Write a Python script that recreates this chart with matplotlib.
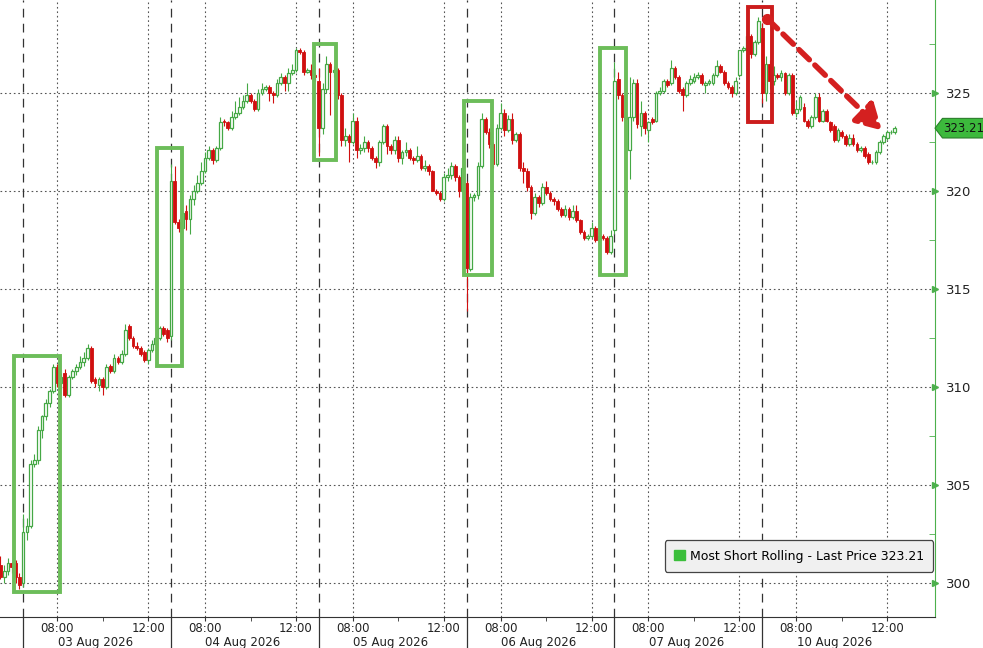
import numpy as np
import matplotlib.pyplot as plt
from matplotlib.patches import Rectangle, Polygon, Patch

# ---------------- data: 10-minute bars (open, high, low, close) ----------------
BARS_PER_DAY = 39          # 06:30 - 13:00
day_labels = ["03 Aug 2026", "04 Aug 2026", "05 Aug 2026",
              "06 Aug 2026", "07 Aug 2026", "10 Aug 2026"]
time_ticks = [9, 33]       # 08:00, 12:00 (bar index inside a day)
time_labels = ["08:00", "12:00"]
minor_tick = 21            # 10:00
last_price = 323.21

# last bars of 31 Jul
bars_jul31 = [
    (300.9, 301.4, 300.2, 300.3), (300.3, 300.9, 300.0, 300.6), (300.6, 301.3, 300.4, 301.0),
    (301.0, 301.1, 300.5, 300.8), (301.0, 301.2, 300.0, 300.3), (300.3, 300.5, 299.7, 299.9),
]

bars_aug03 = [
    (300.0, 303.5, 299.8, 302.6), (302.6, 303.3, 302.2, 302.9), (302.9, 306.3, 302.8, 306.1),
    (306.1, 306.6, 305.9, 306.3), (306.3, 308.0, 306.1, 307.8), (307.8, 308.6, 307.4, 308.5),
    (308.5, 309.4, 308.3, 309.2), (309.2, 309.9, 309.0, 309.8), (309.8, 311.2, 309.7, 311.0),
    (311.0, 311.2, 310.0, 310.2), (310.2, 310.7, 309.9, 310.5), (310.7, 310.9, 309.5, 309.6),
    (309.6, 310.6, 309.5, 310.5), (310.5, 310.9, 310.4, 310.8), (310.8, 311.2, 310.6, 311.0),
    (311.0, 311.6, 310.9, 311.3), (311.3, 311.8, 311.1, 311.5), (311.5, 312.2, 311.4, 312.0),
    (312.0, 312.1, 310.2, 310.3), (310.4, 310.5, 310.0, 310.2), (310.1, 310.5, 309.8, 310.4),
    (310.4, 310.5, 309.6, 310.0), (310.0, 311.2, 309.9, 311.0), (311.1, 311.2, 310.7, 310.8),
    (310.8, 311.7, 310.7, 311.5), (311.5, 311.6, 311.2, 311.3), (311.3, 311.9, 311.2, 311.7),
    (311.7, 313.2, 311.6, 312.9), (313.1, 313.2, 312.4, 312.5), (312.5, 312.6, 312.0, 312.1),
    (312.1, 312.3, 311.9, 312.0), (312.0, 312.1, 311.6, 311.7), (311.8, 311.9, 311.3, 311.4),
    (311.4, 312.0, 311.2, 311.9), (311.9, 312.4, 311.8, 312.2), (312.2, 312.7, 312.1, 312.5),
    (312.5, 313.1, 312.4, 313.0), (313.0, 313.1, 312.6, 312.7), (312.9, 313.0, 312.3, 312.5),
]

bars_aug04 = [
    (312.6, 321.4, 312.4, 320.5), (320.5, 321.3, 318.3, 318.4), (318.4, 318.6, 317.9, 318.1),
    (318.1, 319.2, 317.9, 318.9), (319.0, 319.3, 318.0, 318.6), (318.6, 319.8, 317.8, 319.6),
    (319.6, 320.3, 319.3, 320.0), (320.0, 320.8, 319.9, 320.4), (320.4, 321.5, 320.3, 321.0),
    (321.0, 322.0, 320.9, 321.7), (321.7, 322.3, 321.6, 322.1), (322.1, 322.2, 321.4, 321.6),
    (321.6, 322.3, 321.5, 322.2), (322.2, 323.8, 322.1, 323.5), (323.6, 323.7, 323.3, 323.5),
    (323.5, 323.6, 323.1, 323.2), (323.2, 324.1, 323.1, 323.8), (323.8, 324.6, 323.7, 324.0),
    (324.0, 324.8, 323.9, 324.3), (324.3, 324.9, 324.2, 324.6), (324.6, 325.5, 324.5, 324.9),
    (324.9, 325.0, 324.5, 324.6), (324.6, 324.7, 324.1, 324.2), (324.2, 325.2, 324.1, 325.0),
    (325.0, 325.5, 324.9, 325.2), (325.2, 325.4, 325.1, 325.3), (325.3, 325.4, 324.6, 325.0),
    (325.0, 325.1, 324.5, 324.9), (324.9, 325.7, 324.8, 325.5), (325.5, 326.0, 325.4, 325.8),
    (325.8, 325.9, 325.1, 325.5), (325.5, 326.3, 325.1, 326.0), (326.0, 326.5, 325.9, 326.2),
    (326.2, 327.3, 326.1, 327.2), (327.2, 327.3, 327.0, 327.1), (327.1, 327.2, 325.9, 326.1),
    (326.1, 326.3, 326.0, 326.2), (326.2, 326.5, 325.7, 325.9), (325.9, 326.0, 325.6, 325.8),
]

bars_aug05 = [
    (325.6, 326.3, 321.8, 323.2), (323.2, 325.5, 322.9, 325.2), (325.2, 326.9, 325.0, 326.5),
    (326.5, 326.6, 323.9, 326.1), (326.1, 326.4, 325.8, 326.2), (326.2, 326.3, 324.7, 324.9),
    (324.9, 325.0, 322.3, 322.6), (322.6, 323.2, 322.3, 322.8), (322.8, 322.9, 321.5, 322.5),
    (322.5, 324.0, 322.4, 323.6), (323.6, 323.8, 321.7, 322.1), (322.1, 322.4, 321.9, 322.2),
    (322.2, 322.8, 322.0, 322.5), (322.5, 322.6, 322.0, 322.2), (322.2, 322.3, 321.6, 321.7),
    (321.7, 321.8, 321.2, 321.5), (321.5, 322.6, 321.3, 322.5), (322.5, 323.4, 322.4, 323.3),
    (323.3, 323.4, 321.9, 322.3), (322.3, 322.4, 321.9, 322.1), (322.1, 322.8, 321.9, 322.6),
    (322.6, 322.8, 321.5, 321.7), (321.7, 322.1, 321.4, 322.0), (322.0, 322.5, 321.8, 322.1),
    (322.1, 322.2, 321.6, 321.7), (321.7, 321.8, 321.4, 321.6), (321.6, 322.3, 321.5, 321.8),
    (321.8, 321.9, 321.1, 321.2), (321.2, 321.6, 321.0, 321.3), (321.3, 321.4, 320.8, 321.0),
    (321.0, 321.1, 320.0, 320.0), (320.0, 320.1, 319.8, 319.9), (319.9, 320.0, 319.5, 319.6),
    (319.6, 320.9, 319.5, 320.7), (320.7, 321.2, 320.5, 320.8), (320.8, 321.5, 320.6, 321.3),
    (321.3, 321.4, 320.5, 320.7), (320.7, 320.8, 319.7, 320.0), (320.0, 321.6, 319.9, 321.2),
]

bars_aug06 = [
    (320.4, 320.5, 313.9, 316.1), (316.0, 319.9, 315.9, 319.7), (319.7, 319.9, 319.5, 319.8),
    (319.8, 321.5, 319.6, 321.3), (321.3, 324.0, 321.2, 323.7), (323.7, 323.8, 322.9, 323.0),
    (323.0, 323.2, 322.2, 322.4), (322.4, 322.5, 321.2, 321.4), (321.4, 323.4, 321.3, 323.2),
    (323.2, 324.5, 323.1, 324.0), (324.0, 324.2, 322.8, 323.1), (323.1, 323.9, 323.0, 323.7),
    (323.7, 324.0, 322.4, 322.6), (322.6, 323.0, 322.5, 322.9), (322.9, 323.0, 321.0, 321.2),
    (321.2, 321.5, 320.4, 321.0), (321.0, 321.2, 320.0, 320.2), (320.2, 320.3, 318.6, 318.9),
    (318.9, 319.9, 318.8, 319.7), (319.7, 319.8, 319.2, 319.4), (319.4, 320.4, 319.3, 320.2),
    (320.2, 320.5, 319.8, 319.9), (319.9, 320.0, 319.5, 319.6), (319.6, 319.7, 319.3, 319.5),
    (319.5, 319.6, 319.0, 319.1), (319.1, 319.2, 318.7, 318.8), (318.8, 319.3, 318.7, 319.1),
    (319.1, 319.2, 318.5, 318.7), (318.7, 319.3, 318.6, 319.0), (319.0, 319.3, 318.4, 318.5),
    (318.5, 318.6, 317.8, 317.9), (317.9, 318.0, 317.5, 317.6), (317.6, 317.8, 317.5, 317.7),
    (317.7, 318.4, 317.6, 318.1), (318.1, 318.2, 317.4, 317.5), (317.5, 317.8, 317.4, 317.7),
    (317.7, 317.8, 317.5, 317.6), (317.6, 317.7, 316.8, 316.9), (316.9, 318.0, 316.8, 317.7),
]

bars_aug07 = [
    (318.0, 326.6, 317.8, 325.6), (325.7, 326.1, 324.7, 324.9), (324.9, 325.0, 323.6, 323.8),
    (323.8, 324.0, 323.5, 323.7), (322.1, 325.8, 320.6, 323.8), (323.8, 325.7, 323.6, 325.5),
    (325.5, 325.7, 323.2, 323.4), (323.3, 324.6, 322.8, 324.0), (324.0, 324.1, 322.9, 323.2),
    (323.1, 323.6, 322.5, 323.5), (323.7, 323.8, 323.4, 323.5), (323.6, 325.1, 323.5, 325.0),
    (325.0, 325.3, 324.9, 325.1), (325.1, 325.7, 325.0, 325.6), (325.6, 325.7, 325.3, 325.4),
    (325.5, 326.7, 325.4, 326.3), (326.3, 326.4, 325.7, 325.8), (325.8, 325.9, 325.0, 325.1),
    (325.2, 325.3, 324.1, 324.9), (324.9, 325.6, 324.8, 325.5), (325.5, 325.9, 325.4, 325.7),
    (325.6, 326.0, 325.5, 325.8), (325.8, 326.1, 325.7, 325.9), (325.9, 326.0, 325.4, 325.5),
    (325.4, 325.6, 325.0, 325.5), (325.5, 325.7, 325.4, 325.6), (325.5, 326.0, 325.4, 325.9),
    (325.9, 326.7, 325.8, 326.4), (326.4, 326.5, 326.0, 326.1), (326.1, 326.2, 325.4, 325.5),
    (325.5, 325.6, 325.2, 325.3), (325.3, 325.4, 324.8, 325.0), (325.0, 325.8, 324.9, 325.6),
    (325.9, 327.2, 325.8, 327.2), (327.2, 327.4, 327.1, 327.3), (327.2, 328.1, 327.1, 327.9),
    (327.9, 328.0, 326.8, 327.0), (327.0, 327.7, 326.9, 327.6), (327.6, 328.9, 327.5, 328.7),
]

bars_aug10 = [
    (328.3, 328.6, 324.5, 325.0), (325.0, 326.9, 324.6, 326.5), (326.5, 326.7, 325.2, 325.6),
    (325.6, 326.4, 325.4, 325.9), (325.9, 326.0, 325.7, 325.8), (325.8, 326.2, 325.6, 326.0),
    (326.0, 326.1, 324.9, 325.0), (325.0, 326.0, 324.9, 325.9), (325.9, 326.0, 323.9, 324.0),
    (324.0, 324.6, 323.8, 324.2), (324.2, 324.9, 324.1, 324.8), (324.3, 324.5, 323.5, 323.6),
    (323.6, 323.7, 323.2, 323.3), (323.3, 323.9, 323.2, 323.8), (323.8, 325.0, 323.7, 324.8),
    (324.8, 325.0, 323.5, 323.6), (323.6, 324.2, 323.5, 324.1), (324.1, 324.2, 323.5, 323.6),
    (323.5, 323.6, 323.0, 323.1), (323.3, 323.4, 322.5, 322.6), (322.6, 323.2, 322.5, 323.1),
    (323.0, 323.1, 322.7, 322.8), (322.8, 322.9, 322.3, 322.4), (322.4, 322.9, 322.3, 322.7),
    (322.7, 322.9, 322.3, 322.4), (322.4, 322.5, 322.0, 322.1), (322.1, 322.3, 322.0, 322.2),
    (322.2, 322.3, 321.7, 321.8), (321.9, 322.0, 321.4, 321.5), (321.5, 321.6, 321.4, 321.5),
    (321.5, 322.1, 321.4, 322.0), (322.0, 322.6, 321.9, 322.5), (322.5, 322.9, 322.4, 322.8),
    (322.7, 323.1, 322.6, 323.0), (323.0, 323.1, 322.9, 323.0), (323.0, 323.3, 322.9, 323.21),
]

sessions = [bars_aug03, bars_aug04, bars_aug05, bars_aug06, bars_aug07, bars_aug10]

# highlighted moves: (first bar, last bar, low, high) in bar units / price
green_boxes = [(-2.4, 9.8, 299.55, 311.6), (35.4, 41.9, 311.1, 322.2), (76.8, 82.6, 321.6, 327.5),
               (116.4, 123.7, 315.7, 324.6), (152.2, 159.1, 315.7, 327.3)]
red_box = (191.3, 197.6, 323.5, 329.4)
arrow_from = (196.3, 328.8)
arrow_to = (226.6, 323.1)

GREEN = "#45a845"
RED = "#d00f0f"
BOX_GREEN = "#6cbd5a"

# ---------------- build x positions ----------------
xs, ohlc = [], []
for j, b in enumerate(bars_jul31):
    xs.append(j - len(bars_jul31))
    ohlc.append(b)
for k, day in enumerate(sessions):
    for i, b in enumerate(day):
        xs.append(k * BARS_PER_DAY + i)
        ohlc.append(b)
xs = np.array(xs, dtype=float)
ohlc = np.array(ohlc)
o, h, l, c = ohlc.T
up = c >= o

plt.rcParams['font.family'] = ['DejaVu Sans']
fig = plt.figure(figsize=(9.83, 6.48), dpi=100)
ax = fig.add_axes([0, 31 / 648, 935 / 983, 617 / 648])

# grid
for y in range(300, 330, 5):
    ax.axhline(y, color="#555555", lw=0.8, ls=(0, (1.5, 2.5)), zorder=0)
for k in range(len(sessions)):
    for t in time_ticks:
        ax.axvline(k * BARS_PER_DAY + t, color="#555555", lw=0.8, ls=(0, (1.5, 2.5)), zorder=0)
    ax.axvline(k * BARS_PER_DAY, color="#333333", lw=0.9, ls=(0, (7, 5)), zorder=0)
    ax.plot([k * BARS_PER_DAY] * 2, [0, -0.06], color="#333333", lw=0.9,
            transform=ax.get_xaxis_transform(), clip_on=False)

# candles
ax.vlines(xs[up], l[up], h[up], color=GREEN, lw=0.8, zorder=2)
ax.vlines(xs[~up], l[~up], h[~up], color=RED, lw=0.8, zorder=2)
ax.bar(xs[up], c[up] - o[up], bottom=o[up], width=0.72, facecolor="white",
       edgecolor=GREEN, linewidth=0.9, zorder=3)
ax.bar(xs[~up], c[~up] - o[~up], bottom=o[~up], width=0.72, facecolor=RED,
       edgecolor=RED, linewidth=0.6, zorder=3)

# highlight boxes and arrow
for x0, x1, y0, y1 in green_boxes:
    ax.add_patch(Rectangle((x0, y0), x1 - x0, y1 - y0, fill=False, edgecolor=BOX_GREEN,
                           lw=2.8, zorder=4))
x0, x1, y0, y1 = red_box
ax.add_patch(Rectangle((x0, y0), x1 - x0, y1 - y0, fill=False, edgecolor="#cc1c1c", lw=2.8, zorder=4))
ax.plot(*arrow_from, "o", color="#d42020", ms=7, zorder=5)
ax.annotate("", xy=arrow_to, xytext=arrow_from, zorder=5,
            arrowprops=dict(arrowstyle="-|>,head_length=1.5,head_width=0.85", color="#d42020",
                            lw=4, ls=(0, (2.6, 1.4)), shrinkA=0, shrinkB=0))

# axes limits and spines
ax.set_xlim(-6.1, 240.6)
ax.set_ylim(298.27, 329.75)
for s in ["top", "left"]:
    ax.spines[s].set_visible(False)
ax.spines["bottom"].set_color("#333333")
ax.spines["right"].set_color("#4cb04c")

# x ticks
major = [k * BARS_PER_DAY + t for k in range(len(sessions)) for t in time_ticks]
ax.set_xticks(major)
ax.set_xticklabels(time_labels * len(sessions))
ax.set_xticks([k * BARS_PER_DAY + minor_tick for k in range(len(sessions))], minor=True)
ax.tick_params(axis="x", which="both", length=3, color="#333333", labelsize=8.5,
               labelcolor="#222222", pad=0.8)
for k, lab in enumerate(day_labels):
    ax.annotate(lab, xy=(k * BARS_PER_DAY + 19, 0), xycoords=("data", "axes fraction"),
                xytext=(0, -13.8), textcoords="offset points", ha="center", va="top",
                fontsize=8.5, color="#222222")

# y ticks on the right
ax.yaxis.tick_right()
ax.set_yticks(range(300, 330, 5))
ax.set_yticks(np.arange(302.5, 330, 5), minor=True)
ax.tick_params(axis="y", which="major", length=0, labelsize=9.5, labelcolor="#222222", pad=8)
ax.tick_params(axis="y", which="minor", length=4, color="#4cb04c", direction="in")
ax.plot([1.0] * 6, range(300, 330, 5), ">", color="#4cb04c", ms=5,
        transform=ax.get_yaxis_transform(), clip_on=False, zorder=6)

# last price tag
tr = ax.get_yaxis_transform()
tag = Polygon([(1.0, last_price), (1.008, last_price + 0.5), (1.06, last_price + 0.5),
               (1.06, last_price - 0.5), (1.008, last_price - 0.5)], closed=True,
              facecolor="#3cb93c", edgecolor="#2b7d2b", lw=0.8, transform=tr, clip_on=False, zorder=6)
ax.add_patch(tag)
ax.text(1.0085, last_price, f"{last_price:.2f}", transform=tr, va="center", ha="left",
        fontsize=8.5, color="#111111", zorder=7)

# legend
handle = Patch(facecolor="#3cbf3c", edgecolor="#3cbf3c")
leg = ax.legend([handle], [f"Most Short Rolling - Last Price {last_price:.2f}"],
                loc="lower right", bbox_to_anchor=(0.998, 0.073), fontsize=9,
                handlelength=0.9, handleheight=0.9, handletextpad=0.35, borderpad=0.75,
                borderaxespad=0, frameon=True, fancybox=True)
leg.get_frame().set_facecolor("#f0f0f0")
leg.get_frame().set_edgecolor("#444444")
leg.get_frame().set_alpha(1)
leg.get_frame().set_linewidth(0.9)

fig.savefig("out.png", dpi=100)
